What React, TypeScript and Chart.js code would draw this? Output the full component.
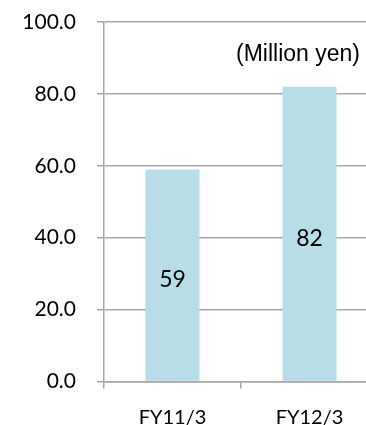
import React, { useEffect, useRef } from "react";
import { Chart, registerables } from "chart.js";

Chart.register(...registerables);

const categories = ["FY11/3", "FY12/3"];
const values = [59, 82];
const barLabels = ["59", "82"];
const unitLabel = "(Million yen)";
const yMin = 0;
const yMax = 100;
const yStep = 20;

const CANVAS_W = 390;
const CANVAS_H = 425;

const overlayPlugin = {
  id: "overlayText",
  afterDatasetsDraw(chart: any) {
    const ctx = chart.ctx;
    const meta = chart.getDatasetMeta(0);
    ctx.save();
    ctx.fillStyle = "#000000";
    ctx.font = "23px Lato";
    ctx.textAlign = "center";
    ctx.textBaseline = "middle";
    meta.data.forEach((bar: any, i: number) => {
      const midY = (bar.y + bar.base) / 2 + 5;
      ctx.fillText(barLabels[i], bar.x, midY);
    });
    ctx.font = "23px 'Liberation Sans'";
    ctx.textAlign = "right";
    ctx.fillText(unitLabel, 360, 55);
    ctx.restore();
  },
};

export default function App() {
  const ref = useRef<HTMLCanvasElement | null>(null);
  useEffect(() => {
    document.body.style.margin = "0";
    const canvas = ref.current!;
    const chart = new Chart(canvas, {
      type: "bar",
      data: {
        labels: categories,
        datasets: [
          {
            data: values,
            backgroundColor: "#b7dde8",
            borderWidth: 0,
            barPercentage: 1,
            categoryPercentage: 0.394,
          },
        ],
      },
      options: {
        animation: false,
        responsive: false,
        maintainAspectRatio: false,
        layout: { padding: { top: 22, right: CANVAS_W - 378, left: 0, bottom: 0 } },
        plugins: { legend: { display: false }, tooltip: { enabled: false } },
        scales: {
          x: {
            grid: {
              offset: true,
              drawOnChartArea: false,
              drawTicks: true,
              tickLength: 7,
              color: "#a6a6a6",
              lineWidth: 1.5,
            },
            border: { display: true, color: "#a6a6a6", width: 1.5 },
            ticks: {
              color: "#000000",
              font: { family: "Lato", size: 20 },
              padding: 17,
            },
            afterFit: (scale: any) => {
              scale.height = CANVAS_H - 381.5;
              scale.paddingLeft = 0;
              scale.paddingRight = 0;
            },
          },
          y: {
            min: yMin,
            max: yMax,
            grid: {
              color: "#a6a6a6",
              lineWidth: 1.5,
              drawTicks: true,
              tickLength: 7,
            },
            border: { display: true, color: "#a6a6a6", width: 1.5 },
            ticks: {
              stepSize: yStep,
              color: "#000000",
              font: { family: "Lato", size: 21 },
              padding: 21,
              callback: (v: any) => Number(v).toFixed(1),
            },
            afterFit: (scale: any) => {
              scale.width = 104;
              scale.paddingTop = 0;
              scale.paddingBottom = 0;
            },
          },
        },
      },
      plugins: [overlayPlugin],
    });
    return () => chart.destroy();
  }, []);
  return (
    <div style={{ width: 366, height: 425, overflow: "hidden", background: "#ffffff" }}>
      <canvas ref={ref} width={CANVAS_W} height={CANVAS_H} style={{ display: "block" }} />
    </div>
  );
}
